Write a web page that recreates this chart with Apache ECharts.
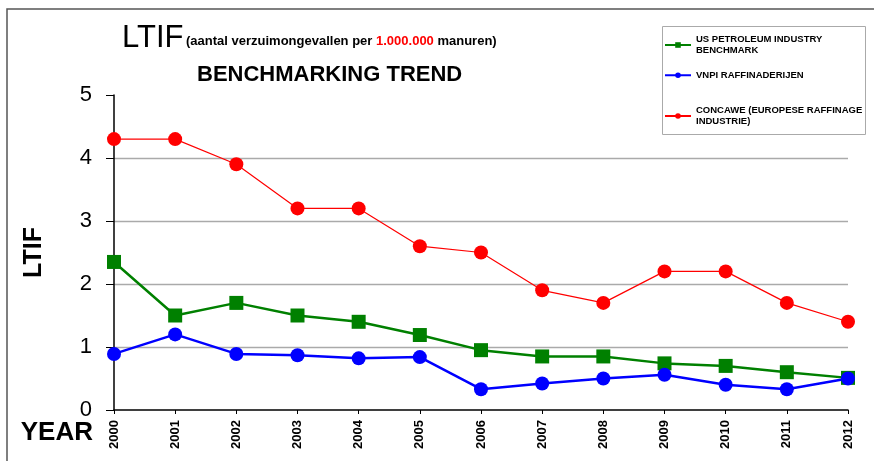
<!DOCTYPE html>
<html>
<head>
<meta charset="utf-8">
<script src="https://cdn.jsdelivr.net/npm/echarts@6/dist/echarts.min.js"></script>
<style>
html,body{margin:0;padding:0;background:#fff;}
#chart{width:874px;height:461px;}
</style>
</head>
<body>
<div id="chart"></div>
<script>
var years = ['2000','2001','2002','2003','2004','2005','2006','2007','2008','2009','2010','2011','2012'];
var usPetroleum = [2.35,1.5,1.7,1.5,1.4,1.19,0.95,0.85,0.85,0.74,0.7,0.6,0.51];
var vnpi = [0.89,1.2,0.89,0.87,0.82,0.84,0.33,0.42,0.5,0.56,0.4,0.33,0.5];
var concawe = [4.3,4.3,3.9,3.2,3.2,2.6,2.5,1.9,1.7,2.2,2.2,1.7,1.4];
var seriesNames = ['US PETROLEUM INDUSTRY\nBENCHMARK','VNPI RAFFINADERIJEN','CONCAWE (EUROPESE RAFFINAGE\nINDUSTRIE)'];
var yTicks = [0,1,2,3,4,5];

var FONT = '"Liberation Sans", Arial, sans-serif';
var chart = echarts.init(document.getElementById('chart'));

function legendFor(name, top) {
  return {
    data: [name],
    left: 664,
    top: top,
    padding: 0,
    itemWidth: 26,
    itemHeight: 7,
    selectedMode: false,
    textStyle: {fontFamily: FONT, fontSize: 9.5, fontWeight: 'bold', color: '#000', lineHeight: 11.5}
  };
}

chart.setOption({
  animation: false,
  backgroundColor: '#fff',
  title: [
    {text: 'LTIF', left: 122, top: 23, padding: 0,
     textStyle: {fontFamily: FONT, fontSize: 31, fontWeight: 'normal', color: '#000'}},
    {text: '{b|(aantal verzuimongevallen per }{r|1.000.000}{b| manuren)}', left: 186, top: 35, padding: 0,
     textStyle: {rich: {
       b: {fontFamily: FONT, fontSize: 13, fontWeight: 'bold', color: '#000'},
       r: {fontFamily: FONT, fontSize: 13, fontWeight: 'bold', color: '#ff0000'}
     }}},
    {text: 'BENCHMARKING TREND', left: 197, top: 64, padding: 0,
     textStyle: {fontFamily: FONT, fontSize: 22, fontWeight: 'bold', color: '#000'}}
  ],
  graphic: [
    {type: 'rect', shape: {x: 7, y: 9, width: 900, height: 480}, style: {fill: 'none', stroke: '#555', lineWidth: 1.5}, silent: true},
    {type: 'rect', shape: {x: 662.5, y: 26.5, width: 203, height: 108}, style: {fill: '#fff', stroke: '#aaa', lineWidth: 1}, silent: true}
  ],
  legend: [
    legendFor(seriesNames[0], 33.5),
    legendFor(seriesNames[1], 69.5),
    legendFor(seriesNames[2], 104.5)
  ],
  grid: {left: 114, right: 26, top: 95, bottom: 51, containLabel: false},
  xAxis: {
    type: 'category',
    data: years,
    boundaryGap: false,
    name: 'YEAR',
    nameLocation: 'start',
    nameGap: 21,
    nameMoveOverlap: false,
    nameTextStyle: {fontFamily: FONT, fontSize: 26, fontWeight: 'bold', color: '#000', verticalAlign: 'top', align: 'right', padding: [10, 0, 0, 0]},
    axisLine: {lineStyle: {color: '#000', width: 1.5}},
    axisTick: {show: true, length: 4, lineStyle: {color: '#000', width: 1}},
    axisLabel: {rotate: 90, margin: 10, interval: 0, fontFamily: FONT, fontSize: 13, fontWeight: 'bold', color: '#000'},
    splitLine: {show: false}
  },
  yAxis: {
    type: 'value',
    min: yTicks[0],
    max: yTicks[yTicks.length - 1],
    interval: 1,
    name: 'LTIF',
    nameLocation: 'middle',
    nameGap: 67,
    nameRotate: 90,
    nameMoveOverlap: false,
    nameTextStyle: {fontFamily: FONT, fontSize: 25, fontWeight: 'bold', color: '#000'},
    axisLine: {show: true, lineStyle: {color: '#000', width: 1.5}},
    axisTick: {show: true, length: 8, lineStyle: {color: '#000', width: 1}},
    axisLabel: {margin: 22, fontFamily: FONT, fontSize: 22, color: '#000'},
    splitLine: {show: true, lineStyle: {color: ['transparent','#aaa','#aaa','#aaa','#aaa','transparent'], width: 1.3}}
  },
  series: [
    {name: seriesNames[0], type: 'line', data: usPetroleum, symbol: 'rect', symbolSize: 14,
     lineStyle: {color: '#008000', width: 2.5}, itemStyle: {color: '#008000'}},
    {name: seriesNames[1], type: 'line', data: vnpi, symbol: 'circle', symbolSize: 14,
     lineStyle: {color: '#0000ff', width: 2.5}, itemStyle: {color: '#0000ff'}},
    {name: seriesNames[2], type: 'line', data: concawe, symbol: 'circle', symbolSize: 14,
     lineStyle: {color: '#ff0000', width: 1.2}, itemStyle: {color: '#ff0000'}}
  ]
});
</script>
</body>
</html>
